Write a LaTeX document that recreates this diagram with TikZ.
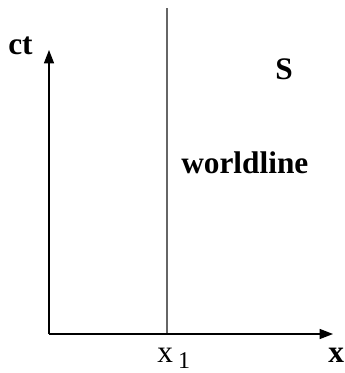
\documentclass[tikz,border=0pt]{standalone}
\usepackage{fontspec}
\setmainfont{Liberation Serif}
\usetikzlibrary{arrows.meta}
\begin{document}
\begin{tikzpicture}[x=0.75pt,y=-0.75pt,>={Triangle[length=10pt,width=7.5pt]},
  axis/.style={draw=black,line width=1pt},
  wline/.style={draw=black!60,line width=0.8pt},
  lbl/.style={inner sep=0pt,anchor=base west,font=\fontsize{23.5}{28}\selectfont\bfseries},
  tick/.style={inner sep=0pt,anchor=base west,font=\fontsize{23.5}{28}\selectfont}]
\useasboundingbox (0,0) rectangle (344,373);
\coordinate (origin) at (49,334);
\coordinate (ctend) at (49,50);
\coordinate (xend) at (333,334);
\coordinate (wtop) at (167,8);
\coordinate (wbot) at (167,334);
\draw[wline] (wbot)--(wtop);
\draw[axis,->] (origin)--(ctend);\draw[axis,->] (origin)--(xend);
\node[lbl] (ct) at (8,55) {ct};
\node[lbl] (frame) at (275,80) {S};
\node[lbl] (world) at (181,174) {worldline};
\node[tick] (xone) at (157,362) {x\,\raisebox{-0.2em}{\fontsize{18}{22}\selectfont 1}};
\node[lbl] (xlab) at (328,362) {x};
\end{tikzpicture}
\end{document}
